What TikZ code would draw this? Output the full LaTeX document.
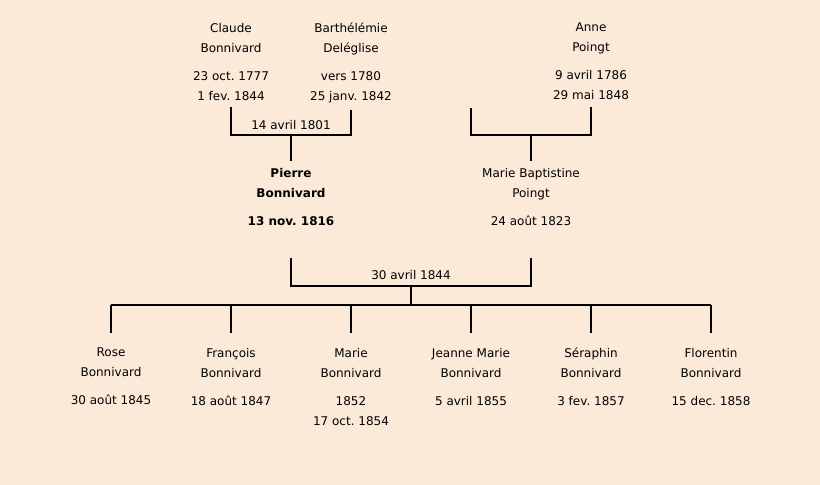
\documentclass[tikz,border=0pt]{standalone}
\usepackage{fontspec}
\setmainfont{DejaVu Sans}
\frenchspacing
\definecolor{parchment}{RGB}{252,234,216}
\tikzset{person/.style={align=center,inner sep=0pt,outer ysep=7pt,anchor=north,
		font=\fontsize{12}{20}\selectfont}
}
\tikzset{kid/.style={person,outer ysep=15pt}}
\tikzstyle{branch}=[line width=1.6pt]
\tikzstyle{wedding}=[anchor=base,inner sep=0pt,font=\fontsize{12}{14}\selectfont]

\begin{document}
\begin{tikzpicture}[x=1pt,y=-1pt]
			\useasboundingbox[fill=parchment] (0,0) rectangle (820,485);
			\begin{scope}[branch] %square family brackets
				% grandparents
				\node (C)[person] at (231,16) {Claude\\Bonnivard\\[8pt]23 oct. 1777\\1 fev. 1844};
				\node (B)[person] at (351,16) {Barthélémie\\Deléglise\\[8pt]vers 1780\\25 janv. 1842};
				\node (A)[person] at (591,16) {Anne\\Poingt\\[8pt]9 avril 1786\\29 mai 1848};
				\coordinate (X) at (471,108);
				% parents
				\node (P)[person,font=\fontsize{12}{20}\selectfont\bfseries] at (291,161) {Pierre\\Bonnivard\\[8pt]13 nov. 1816};
				\node (MB)[person] at (531,161) {Marie Baptistine\\Poingt\\[8pt]24 août 1823};
				\coordinate (W1) at (291,135);
				\coordinate (W2) at (531,135);
				\node (D1)[wedding] at (291,129) {14 avril 1801};
				\draw (C.south) |- (W1) -| (B.south);
				\draw (W1) -- (P.north);
				\draw (X) |- (W2) -| (A.south);
				\draw (W2) -- (MB.north);
				% children
				\coordinate (top) at (411,258);
				\coordinate (W3) at (411,286);
				\coordinate (fam) at (411,305);
				\node (D3)[wedding] at (411,279) {30 avril 1844};
				\draw (P |- top) |- (W3) -| (MB |- top);
				\draw (W3) -- (fam);
				\foreach \nr/\first/\born in {1/Rose/30 août 1845, 2/François/18 août 1847,
					3/Marie/{1852\\17 oct. 1854}, 4/Jeanne Marie/5 avril 1855,
					5/Séraphin/3 fev. 1857, 6/Florentin/15 dec. 1858}{
					\node (K\nr)[kid] at ({\nr*120-9},333) {\first\\Bonnivard\\[8pt]\born};
					\draw (fam -| K\nr.north) -- (K\nr.north);
				}
				\draw (fam -| K1.north) -- (fam -| K6.north);
			\end{scope}
		\end{tikzpicture}
\end{document}
